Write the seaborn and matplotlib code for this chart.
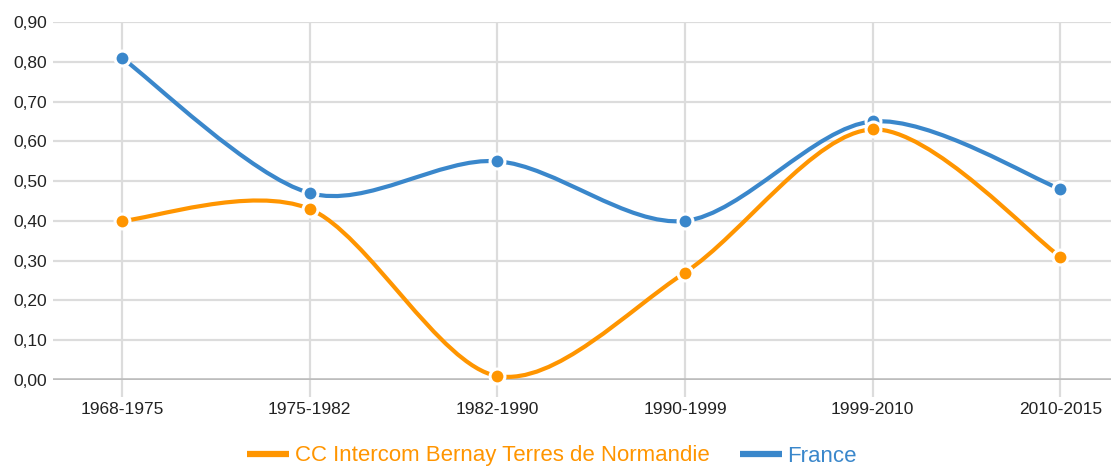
import numpy as np
import pandas as pd
import matplotlib
matplotlib.use("Agg")
import matplotlib.pyplot as plt
from matplotlib.path import Path
from matplotlib.patches import PathPatch
from matplotlib.lines import Line2D
import seaborn as sns

# data
periods = ["1968-1975", "1975-1982", "1982-1990", "1990-1999", "1999-2010", "2010-2015"]
bernay = [0.40, 0.43, 0.01, 0.27, 0.63, 0.31]
france = [0.81, 0.47, 0.55, 0.40, 0.65, 0.48]
series_names = ["CC Intercom Bernay Terres de Normandie", "France"]
yticks = [0.0, 0.1, 0.2, 0.3, 0.4, 0.5, 0.6, 0.7, 0.8, 0.9]

ORANGE = "#FF9500"
BLUE = "#3A87CB"
GRID = "#DCDCDC"

sns.set_style("whitegrid")
plt.rcParams["font.family"] = ["Liberation Sans", "DejaVu Sans"]

df = pd.DataFrame({"period": periods, "x": range(len(periods)),
                   series_names[0]: bernay, series_names[1]: france})
long = df.melt(id_vars=["period", "x"], var_name="serie", value_name="val")

fig = plt.figure(figsize=(11.11, 4.67), dpi=100)
ax = fig.add_axes([53 / 1111, 87 / 467, 1058 / 1111, 358 / 467])


def smooth_path(xs, ys, k=6.5):
    # catmull-rom style bezier through the points
    pts = np.column_stack([xs, ys]).astype(float)
    verts = [pts[0]]
    codes = [Path.MOVETO]
    n = len(pts)
    for i in range(n - 1):
        p0 = pts[max(i - 1, 0)]
        p1 = pts[i]
        p2 = pts[i + 1]
        p3 = pts[min(i + 2, n - 1)]
        c1 = p1 + (p2 - p0) / k
        c2 = p2 - (p3 - p1) / k
        verts += [c1, c2, p2]
        codes += [Path.CURVE4] * 3
    return Path(verts, codes)


# blue first, orange drawn on top
for name, col in [(series_names[1], BLUE), (series_names[0], ORANGE)]:
    sub = long[long["serie"] == name]
    patch = PathPatch(smooth_path(sub["x"], sub["val"]), fill=False,
                      edgecolor=col, lw=3.0, capstyle="round", zorder=3)
    ax.add_patch(patch)
    sns.scatterplot(data=sub, x="x", y="val", color=col, s=115,
                    edgecolor="white", linewidth=2.2, zorder=4, ax=ax,
                    clip_on=False, legend=False)

ax.set_xlim(-0.367, 5.27)
ax.set_ylim(0, 0.9)
ax.set_xticks(range(len(periods)))
ax.set_xticklabels(periods)
ax.set_yticks(yticks)
ax.set_yticklabels([f"{v:.2f}".replace(".", ",") for v in yticks])
ax.set_xlabel("")
ax.set_ylabel("")

ax.grid(True, color=GRID, lw=1.6)
ax.set_axisbelow(True)
for s in ax.spines.values():
    s.set_visible(False)
ax.axhline(0, color="#BDBDBD", lw=2.6, zorder=2)

ax.tick_params(axis="x", length=12, width=1.6, color=GRID, pad=4,
               labelsize=12.5, labelcolor="#222222", bottom=True)
ax.tick_params(axis="y", length=0, pad=4.5, labelsize=12.5, labelcolor="#222222")

handles = [Line2D([0], [0], color=ORANGE, lw=4.5, solid_capstyle="butt"),
           Line2D([0], [0], color=BLUE, lw=4.5, solid_capstyle="butt")]
leg = fig.legend(handles, series_names, loc="center", ncol=2,
                 bbox_to_anchor=(0.497, 1 - 456 / 467), frameon=False,
                 fontsize=16, handlelength=1.9, handletextpad=0.25,
                 columnspacing=1.35)
for txt, col in zip(leg.get_texts(), [ORANGE, BLUE]):
    txt.set_color(col)

fig.savefig("out.png", dpi=100)
